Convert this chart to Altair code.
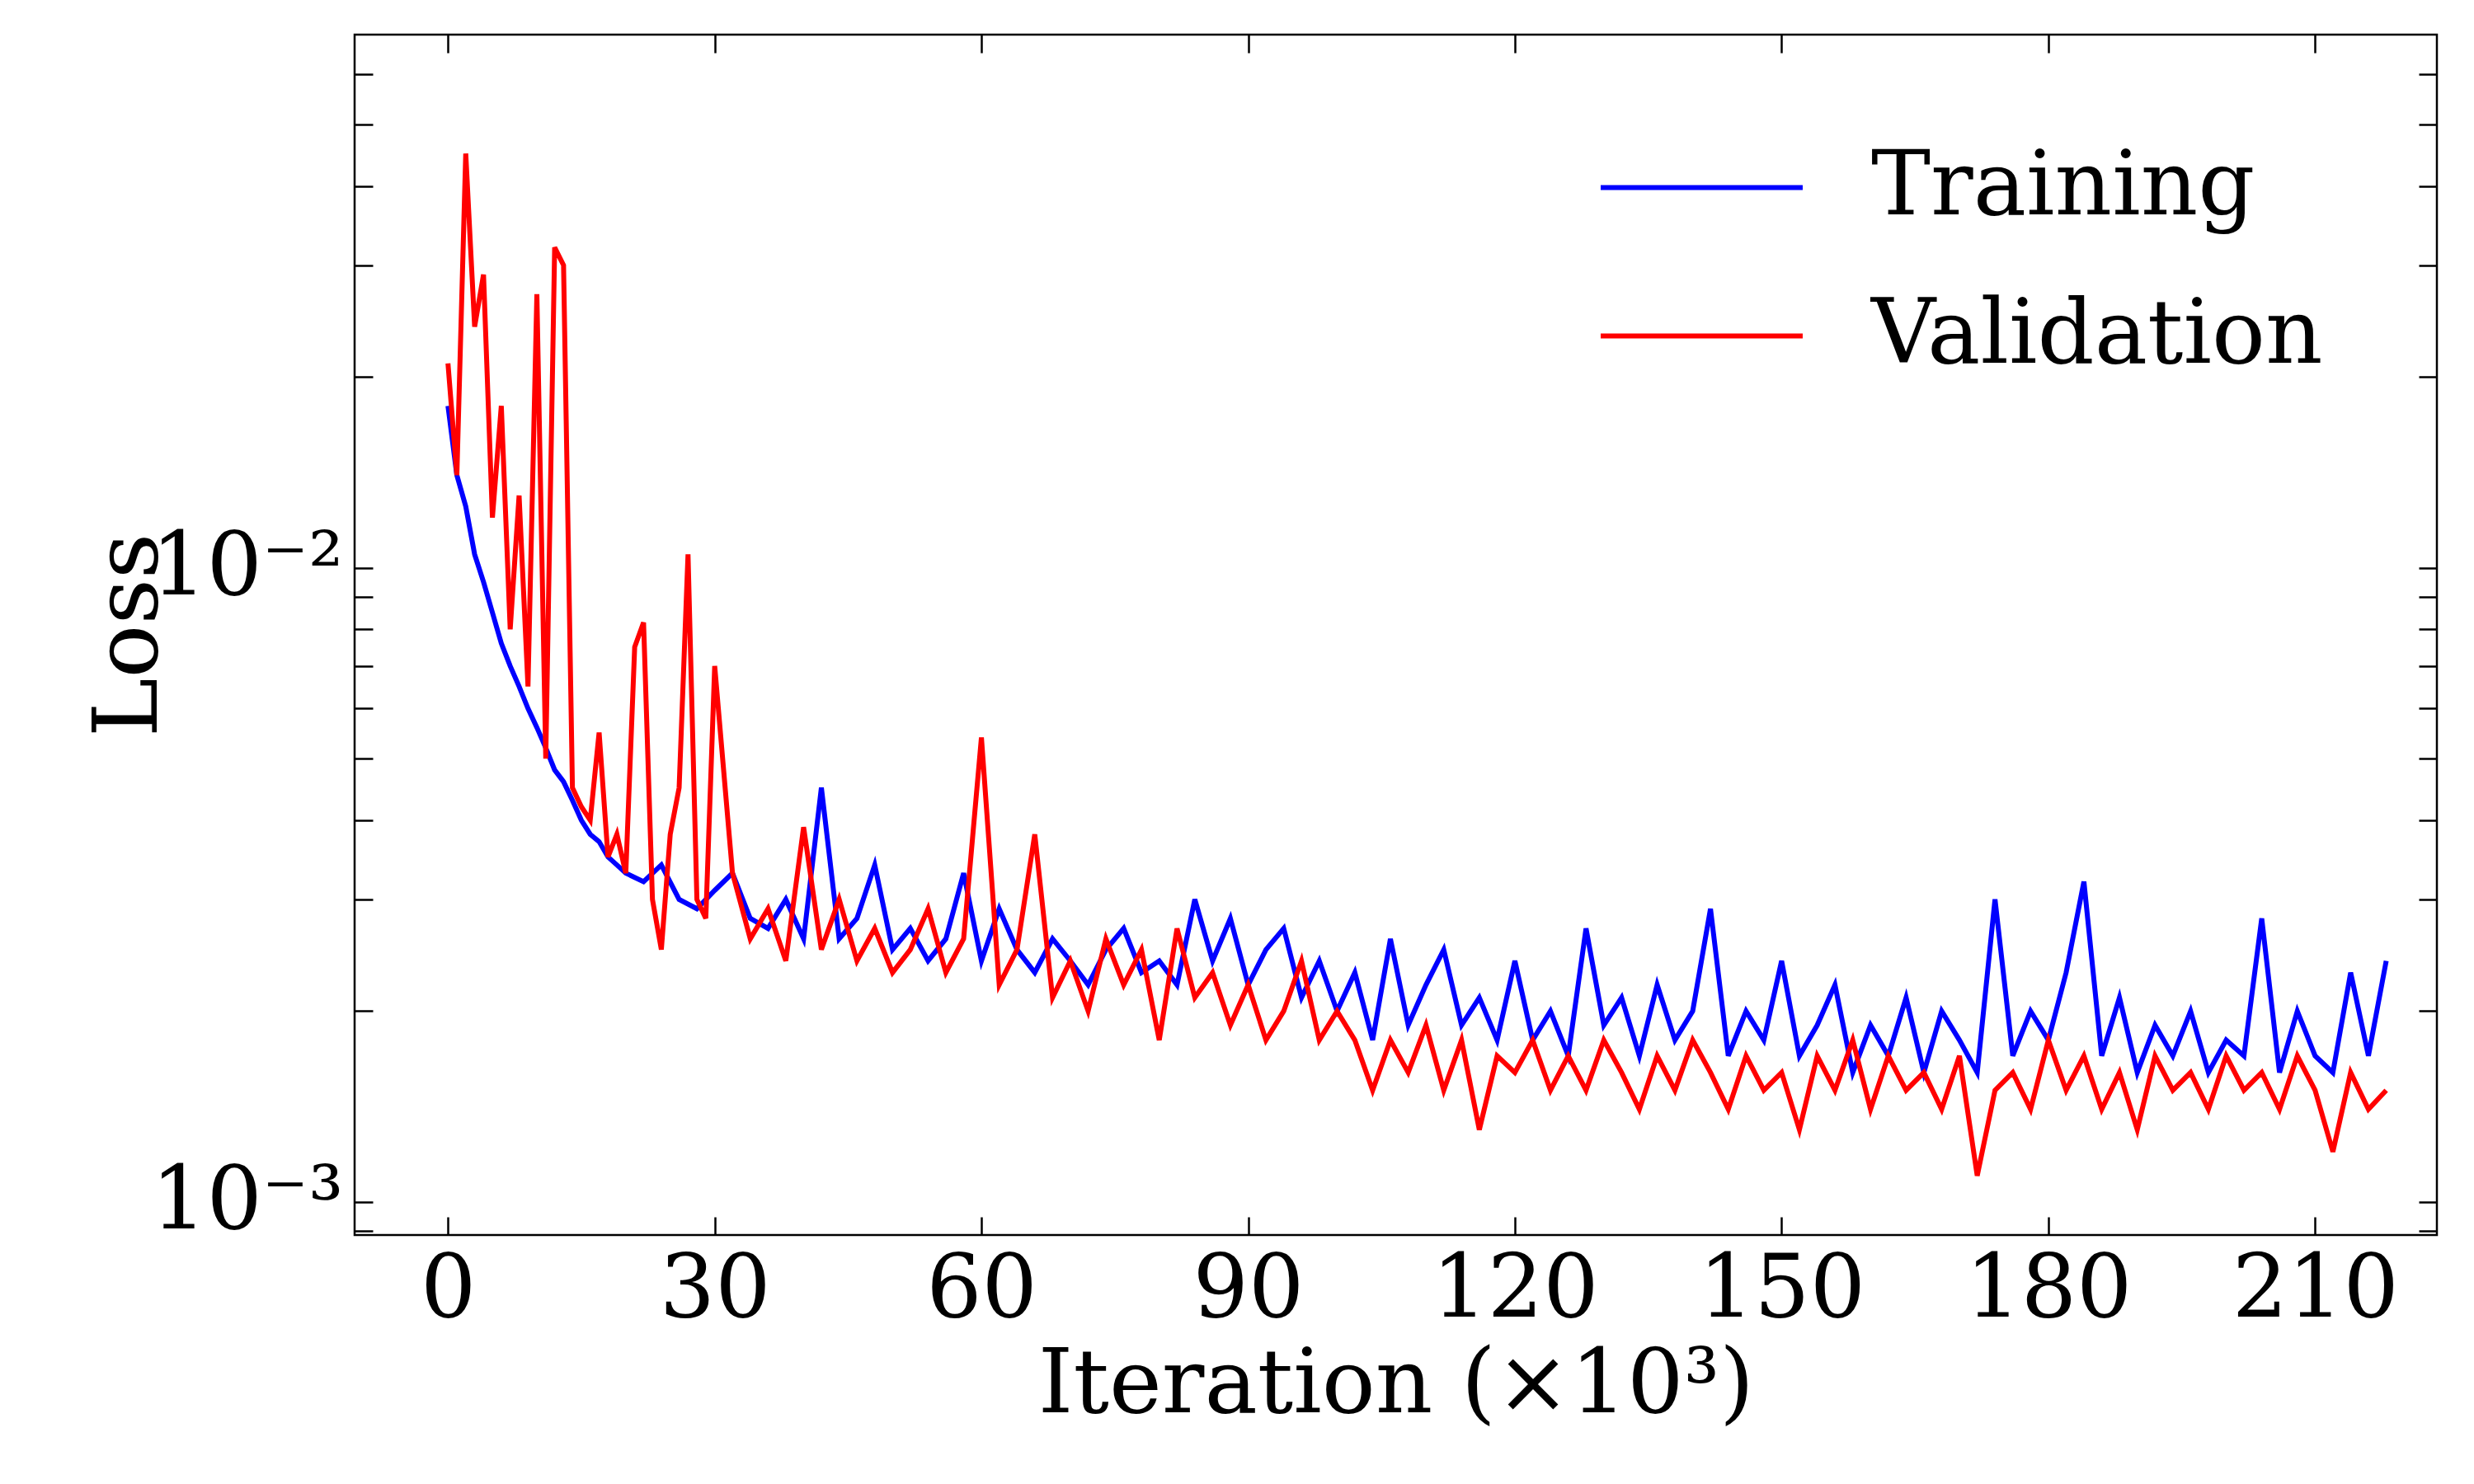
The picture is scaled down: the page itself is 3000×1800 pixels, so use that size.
import altair as alt
import pandas as pd

train_iter = [0,1,2,3,4,5,6,7,8,9,10,11,12,13,14,15,16,17,18,19,20,
 22,24,26,28,30,32,34,36,38,40,42,44,46,48,50,52,54,56,58,60,62,64,66,68,70,72,74,76,78,80,
 82,84,86,88,90,92,94,96,98,100,102,104,106,108,110,112,114,116,118,120,122,124,126,128,130,
 132,134,136,138,140,142,144,146,148,150,152,154,156,158,160,162,164,166,168,170,172,174,176,178,180,
 182,184,186,188,190,192,194,196,198,200,202,204,206,208,210,212,214,216,218]
train_loss = [18,14,12.5,10.5,9.5,8.5,7.6,7.0,6.5,6.0,5.6,5.2,4.8,4.6,4.3,4.0,3.8,3.7,3.5,3.4,3.3,
 3.2,3.4,3.0,2.9,3.1,3.3,2.8,2.7,3.0,2.6,4.5,2.6,2.8,3.4,2.5,2.7,2.4,2.6,3.3,2.4,2.9,2.5,2.3,2.6,2.4,2.2,2.5,2.7,2.3,2.4,
 2.2,3.0,2.4,2.8,2.2,2.5,2.7,2.1,2.4,2.0,2.3,1.8,2.6,1.9,2.2,2.5,1.9,2.1,1.8,2.4,1.8,2.0,1.7,2.7,1.9,
 2.1,1.7,2.2,1.8,2.0,2.9,1.7,2.0,1.8,2.4,1.7,1.9,2.2,1.6,1.9,1.7,2.1,1.6,2.0,1.8,1.6,3.0,1.7,2.0,1.8,
 2.3,3.2,1.7,2.1,1.6,1.9,1.7,2.0,1.6,1.8,1.7,2.8,1.6,2.0,1.7,1.6,2.3,1.7,2.4]

val_iter = [0,1,2,3,4,5,6,7,8,9,10,11,12,13,14,15,16,17,18,19,20,21,22,23,24,25,26,27,28,29,30,
 32,34,36,38,40,42,44,46,48,50,52,54,56,58,60,62,64,66,68,70,72,74,76,78,80,
 82,84,86,88,90,92,94,96,98,100,102,104,106,108,110,112,114,116,118,120,122,124,126,128,130,
 132,134,136,138,140,142,144,146,148,150,152,154,156,158,160,162,164,166,168,170,172,174,176,178,180,
 182,184,186,188,190,192,194,196,198,200,202,204,206,208,210,212,214,216,218]
val_loss = [21,14,45,24,29,12,18,8,13,6.5,27,5,32,30,4.5,4.2,4.0,5.5,3.5,3.8,3.3,7.5,8.2,3.0,2.5,3.8,4.5,10.5,3.0,2.8,7.0,
 3.3,2.6,2.9,2.4,3.9,2.5,3.0,2.4,2.7,2.3,2.5,2.9,2.3,2.6,5.4,2.2,2.5,3.8,2.1,2.4,2.0,2.6,2.2,2.5,1.8,
 2.7,2.1,2.3,1.9,2.2,1.8,2.0,2.4,1.8,2.0,1.8,1.5,1.8,1.6,1.9,1.5,1.8,1.3,1.7,1.6,1.8,1.5,1.7,1.5,1.8,
 1.6,1.4,1.7,1.5,1.8,1.6,1.4,1.7,1.5,1.6,1.3,1.7,1.5,1.8,1.4,1.7,1.5,1.6,1.4,1.7,1.1,1.5,1.6,1.4,1.8,
 1.5,1.7,1.4,1.6,1.3,1.7,1.5,1.6,1.4,1.7,1.5,1.6,1.4,1.7,1.5,1.2,1.6,1.4,1.5]

x_ticks = [0, 30, 60, 90, 120, 150, 180, 210]
y_ticks = [0.0009, 0.001, 0.002, 0.003, 0.004, 0.005, 0.006, 0.007, 0.008, 0.009,
           0.01, 0.02, 0.03, 0.04, 0.05, 0.06]

rows = [{"it": i, "loss": v / 1000, "series": "Training"} for i, v in zip(train_iter, train_loss)]
rows += [{"it": i, "loss": v / 1000, "series": "Validation"} for i, v in zip(val_iter, val_loss)]
df = pd.DataFrame(rows)

W, H = 2525, 1456
FONT = "DejaVu Serif"
xs = alt.Scale(domain=[-10.5, 223.7], nice=False, zero=False)
ys = alt.Scale(type="log", domain=[0.000887, 0.0693], nice=False)
label_expr = ("abs(datum.value-0.01)<1e-6 ? '10⁻²' : abs(datum.value-0.001)<1e-7 ? '10⁻³' : ''")

base = alt.Chart(df)

main = base.mark_line(strokeWidth=6, clip=True).encode(
    x=alt.X("it:Q", scale=xs, axis=alt.Axis(values=x_ticks, ticks=False, domain=False, grid=False,
            title="Iteration (×10³)", titleFont=FONT, titleFontSize=108, titleFontWeight="normal",
            titleColor="black", labelFont=FONT, labelFontSize=106, labelColor="black", labelLimit=0,
            labelPadding=14, titlePadding=10)),
    y=alt.Y("loss:Q", scale=ys, axis=alt.Axis(values=y_ticks, labelExpr=label_expr, ticks=False,
            domain=False, grid=False, title="Loss", titleFont=FONT, titleFontSize=108,
            titleFontWeight="normal", titleColor="black", labelFont=FONT, labelFontSize=106,
            labelColor="black", labelLimit=0, labelPadding=14, titlePadding=18)),
    color=alt.Color("series:N", scale=alt.Scale(domain=["Training", "Validation"], range=["#0000ff", "#ff0000"]),
                    legend=alt.Legend(title=None, orient="none", legendX=1508, legendY=60,
                                      symbolType="stroke", symbolSize=60000, symbolStrokeWidth=6,
                                      labelFont=FONT, labelFontSize=108, labelColor="black", labelLimit=0,
                                      rowPadding=0, labelOffset=80)),
)

ax_a = base.mark_line(opacity=0).encode(
    x=alt.X("it:Q", scale=xs, axis=alt.Axis(orient="top", offset=-H, values=x_ticks, labels=False, domain=False,
            grid=False, title=None, tickSize=22, tickWidth=2.5, tickColor="black")),
    y=alt.Y("loss:Q", scale=ys, axis=alt.Axis(orient="right", offset=-W, values=y_ticks, labels=False, domain=False,
            grid=False, title=None, tickSize=22, tickWidth=2.5, tickColor="black")),
    detail="series:N",
)
ax_b = base.mark_line(opacity=0).encode(
    x=alt.X("it:Q", scale=xs, axis=alt.Axis(orient="bottom", offset=-H, values=x_ticks, labels=False, domain=False,
            grid=False, title=None, tickSize=22, tickWidth=2.5, tickColor="black")),
    y=alt.Y("loss:Q", scale=ys, axis=alt.Axis(orient="left", offset=-W, values=y_ticks, labels=False, domain=False,
            grid=False, title=None, tickSize=22, tickWidth=2.5, tickColor="black")),
    detail="series:N",
)

chart = alt.layer(main, ax_a, ax_b).resolve_axis(x="independent", y="independent").properties(
    width=W, height=H,
    autosize=alt.AutoSizeParams(type="none"),
    padding={"left": 422, "top": 34, "right": 37, "bottom": 294},
    background="white",
).configure_view(stroke="black", strokeWidth=2.5)

chart.save("out.html", embed_options={"renderer": "svg", "actions": False})
